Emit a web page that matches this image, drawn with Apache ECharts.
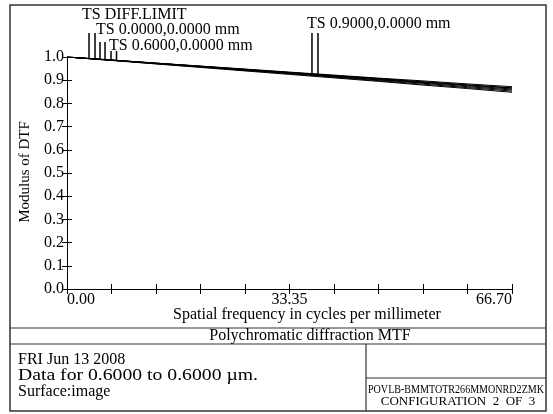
<!DOCTYPE html>
<html><head><meta charset="utf-8">
<script src="https://cdn.jsdelivr.net/npm/echarts@6/dist/echarts.min.js"></script>
<style>html,body{margin:0;padding:0;background:#fff}#c{width:553px;height:414px}</style>
</head><body><div id="c"></div>
<script>
// ---- data ----
const freq      = [0, 6.67, 13.34, 20.01, 26.68, 33.35, 40.02, 46.69, 53.36, 60.03, 66.70];
const diffLimit = [1.000, 0.987, 0.974, 0.961, 0.948, 0.935, 0.922, 0.909, 0.897, 0.884, 0.872];
const field0T   = [1.000, 0.987, 0.973, 0.960, 0.947, 0.933, 0.920, 0.907, 0.893, 0.880, 0.867];
const field0S   = [1.000, 0.987, 0.973, 0.960, 0.946, 0.933, 0.919, 0.906, 0.892, 0.879, 0.866];
const field06T  = [1.000, 0.986, 0.973, 0.959, 0.945, 0.931, 0.917, 0.903, 0.890, 0.876, 0.862];
const field06S  = [1.000, 0.986, 0.972, 0.958, 0.944, 0.930, 0.915, 0.901, 0.887, 0.872, 0.858];
const field09T  = [1.000, 0.986, 0.971, 0.957, 0.942, 0.928, 0.913, 0.898, 0.883, 0.868, 0.853];
const field09S  = [1.000, 0.985, 0.970, 0.955, 0.940, 0.925, 0.910, 0.895, 0.879, 0.864, 0.848];
const legendLabels = ['TS DIFF.LIMIT', 'TS 0.0000,0.0000 mm', 'TS 0.6000,0.0000 mm', 'TS 0.9000,0.0000 mm'];
const markerFreqT  = [3.30, 4.95, 6.60, 36.72];
const markerFreqS  = [4.20, 5.70, 7.42, 37.62];
const xTickLabels  = ['0.00', '33.35', '66.70'];
const yTickLabels  = ['0.0','0.1','0.2','0.3','0.4','0.5','0.6','0.7','0.8','0.9','1.0'];
const footerLines  = ['FRI Jun 13 2008', 'Data for 0.6000 to 0.6000 \u00B5m.', 'Surface:image'];
const lensCode     = 'POVLB-BMMTOTR266MMONRD2ZMK';
const configText   = 'CONFIGURATION  2  OF  3';
const plotTitle    = 'Polychromatic diffraction MTF';
const xAxisTitle   = 'Spatial frequency in cycles per millimeter';
const yAxisTitle   = 'Modulus of DTF';

const curvesT = [diffLimit, field0T, field06T, field09T];
const curvesS = [diffLimit, field0S, field06S, field09S];

// ---- layout / style (not data) ----
const FONT = '"Liberation Serif", "Times New Roman", serif';
const markerLayout = [
  {top: 33, dx: -7, ty: 15},
  {top: 42, dx: -4, ty: 30},
  {top: 51, dx: -2, ty: 46},
  {top: 33, dx: -5, ty: 24}
];

function interp(arr, f) {
  for (let i = 0; i < freq.length - 1; i++) {
    if (f >= freq[i] && f <= freq[i + 1]) {
      const t = (f - freq[i]) / (freq[i + 1] - freq[i]);
      return arr[i] + t * (arr[i + 1] - arr[i]);
    }
  }
  return arr[arr.length - 1];
}

const chart = echarts.init(document.getElementById('c'), null, {renderer: 'canvas'});

const lineSeries = [];
[diffLimit, field0T, field0S, field06T, field06S, field09T, field09S].forEach(arr => {
  lineSeries.push({
    type: 'line', xAxisIndex: 0, yAxisIndex: 0,
    data: freq.map((f, i) => [f, arr[i]]),
    symbol: 'none', silent: true, animation: false,
    lineStyle: {color: '#000', width: 1}
  });
});

const markerSeries = {
  type: 'custom', xAxisIndex: 0, yAxisIndex: 0, silent: true, animation: false, clip: false,
  data: legendLabels.map((l, i) => [markerFreqT[i], 1]),
  renderItem: (params, api) => {
    const g = params.dataIndex;
    const lay = markerLayout[g];
    const children = [];
    [[markerFreqT[g], curvesT[g]], [markerFreqS[g], curvesS[g]]].forEach(([f, arr]) => {
      const p = api.coord([f, interp(arr, f)]);
      children.push({type: 'line', shape: {x1: p[0], y1: p[1], x2: p[0], y2: lay.top},
        style: {stroke: '#000', lineWidth: 1.5}});
    });
    const x0 = api.coord([markerFreqT[g], 0])[0];
    children.push({type: 'text', style: {text: legendLabels[g], x: x0 + lay.dx, y: lay.ty,
      font: '16px ' + FONT, fill: '#000', verticalAlign: 'middle', align: 'left'}});
    return {type: 'group', children};
  }
};

// text width helpers
const ctx = document.createElement('canvas').getContext('2d');
ctx.font = '13px ' + FONT;
const codeScale = 176 / ctx.measureText(lensCode).width;
ctx.font = '16px ' + FONT;
const dataScale = 240 / ctx.measureText(footerLines[1]).width;

const axisCommon = {
  type: 'value', min: 0,
  axisLine: {show: true, lineStyle: {color: '#000', width: 1}},
  axisTick: {show: true, inside: true, length: 5, lineStyle: {color: '#000', width: 1}},
  splitLine: {show: false}
};

const option = {
  animation: false,
  backgroundColor: '#fff',
  grid: {left: 67, top: 57, width: 445, height: 232, containLabel: false},
  xAxis: [
    Object.assign({}, axisCommon, {
      position: 'bottom', max: 66.70, interval: 6.67,
      axisLabel: {
        show: true, color: '#000', fontFamily: FONT, fontSize: 16, margin: 3,
        alignMinLabel: 'left', alignMaxLabel: 'right',
        formatter: (v) => {
          const idx = [0, 33.35, 66.70].findIndex(t => Math.abs(t - v) < 0.01);
          return idx >= 0 ? xTickLabels[idx] : '';
        }
      }
    }),
    Object.assign({}, axisCommon, {position: 'top', max: 66.70, interval: 6.67, axisLabel: {show: false}})
  ],
  yAxis: [
    Object.assign({}, axisCommon, {
      position: 'left', max: 1, interval: 0.1,
      axisLabel: {
        show: true, color: '#000', fontFamily: FONT, fontSize: 16, margin: 3,
        padding: [0, 0, 4, 0],
        formatter: (v) => yTickLabels[Math.round(v * 10)]
      }
    }),
    Object.assign({}, axisCommon, {position: 'right', max: 1, interval: 0.1, axisLabel: {show: false}})
  ],
  series: lineSeries.concat([markerSeries]),
  graphic: [
    {type: 'rect', shape: {x: 10, y: 5, width: 536, height: 406},
      style: {fill: null, stroke: '#333', lineWidth: 1.5}, silent: true},
    {type: 'line', shape: {x1: 10, y1: 328, x2: 546, y2: 328}, style: {stroke: '#333', lineWidth: 1.2}},
    {type: 'line', shape: {x1: 10, y1: 344, x2: 546, y2: 344}, style: {stroke: '#333', lineWidth: 1.2}},
    {type: 'line', shape: {x1: 366, y1: 344, x2: 366, y2: 411}, style: {stroke: '#333', lineWidth: 1.2}},
    {type: 'line', shape: {x1: 366, y1: 378, x2: 546, y2: 378}, style: {stroke: '#333', lineWidth: 1.2}},
    {type: 'text', x: 307, y: 315, style: {text: xAxisTitle, font: '16px ' + FONT, fill: '#000', align: 'center', verticalAlign: 'middle'}},
    {type: 'text', x: 25, y: 172, rotation: Math.PI / 2, style: {text: yAxisTitle, font: '15px ' + FONT, fill: '#000', align: 'center', verticalAlign: 'middle'}},
    {type: 'text', x: 310, y: 336, style: {text: plotTitle, font: '16px ' + FONT, fill: '#000', align: 'center', verticalAlign: 'middle'}},
    {type: 'text', x: 18, y: 360, style: {text: footerLines[0], font: '16px ' + FONT, fill: '#000', verticalAlign: 'middle'}},
    {type: 'text', x: 18, y: 376, scaleX: dataScale, style: {text: footerLines[1], font: '16px ' + FONT, fill: '#000', verticalAlign: 'middle'}},
    {type: 'text', x: 18, y: 392, style: {text: footerLines[2], font: '16px ' + FONT, fill: '#000', verticalAlign: 'middle'}},
    {type: 'text', x: 368, y: 390, scaleX: codeScale, style: {text: lensCode, font: '13px ' + FONT, fill: '#000', verticalAlign: 'middle'}},
    {type: 'text', x: 458, y: 402, style: {text: configText, font: '13px ' + FONT, fill: '#000', align: 'center', verticalAlign: 'middle'}}
  ]
};
chart.setOption(option);
</script>
</body></html>
